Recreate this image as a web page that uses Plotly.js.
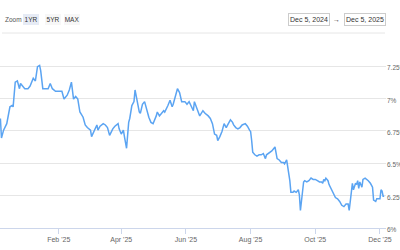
<!DOCTYPE html>
<html><head><meta charset="utf-8">
<script src="https://cdn.plot.ly/plotly-3.0.1.min.js"></script>
<style>html,body{margin:0;padding:0;background:#fff}#chart{width:400px;height:250px}</style>
</head><body><div id="chart"></div>
<script>
const dates = [
'2024-12-08','2024-12-09','2024-12-11','2024-12-14','2024-12-17','2024-12-19','2024-12-20','2024-12-22','2024-12-24','2024-12-26','2024-12-27','2024-12-29','2024-12-31',
'2025-01-03','2025-01-05','2025-01-08','2025-01-10','2025-01-12','2025-01-14','2025-01-15','2025-01-17','2025-01-20','2025-01-22','2025-01-24','2025-01-26','2025-01-29',
'2025-02-02','2025-02-04','2025-02-06','2025-02-07','2025-02-09','2025-02-11','2025-02-13','2025-02-15','2025-02-17','2025-02-19','2025-02-21','2025-02-24','2025-02-26','2025-02-28',
'2025-03-03','2025-03-04','2025-03-07','2025-03-09','2025-03-10','2025-03-12','2025-03-15','2025-03-17','2025-03-19','2025-03-21','2025-03-24','2025-03-26','2025-03-29','2025-03-30',
'2025-04-01','2025-04-03','2025-04-04','2025-04-06','2025-04-08','2025-04-09','2025-04-11','2025-04-13','2025-04-14','2025-04-16','2025-04-18','2025-04-19','2025-04-21','2025-04-23','2025-04-25','2025-04-27','2025-04-29',
'2025-05-01','2025-05-04','2025-05-05','2025-05-07','2025-05-09','2025-05-11','2025-05-12','2025-05-14','2025-05-15','2025-05-17','2025-05-19','2025-05-20','2025-05-23','2025-05-24','2025-05-26','2025-05-28','2025-05-31',
'2025-06-02','2025-06-04','2025-06-06','2025-06-08','2025-06-09','2025-06-11','2025-06-14','2025-06-17','2025-06-19','2025-06-22','2025-06-24','2025-06-26','2025-06-28','2025-06-30',
'2025-07-01','2025-07-03','2025-07-05','2025-07-07','2025-07-09','2025-07-11','2025-07-13','2025-07-15','2025-07-16','2025-07-18','2025-07-20','2025-07-22','2025-07-24','2025-07-27','2025-07-29','2025-07-31',
'2025-08-01','2025-08-02','2025-08-03','2025-08-05','2025-08-07','2025-08-09','2025-08-11','2025-08-13','2025-08-15','2025-08-16','2025-08-18','2025-08-21','2025-08-24','2025-08-26','2025-08-28','2025-08-30',
'2025-09-01','2025-09-02','2025-09-04','2025-09-05','2025-09-07','2025-09-08','2025-09-10','2025-09-11','2025-09-13','2025-09-15','2025-09-16','2025-09-17','2025-09-18','2025-09-20','2025-09-21','2025-09-23','2025-09-25','2025-09-27','2025-09-29',
'2025-10-01','2025-10-03','2025-10-05','2025-10-07','2025-10-08','2025-10-09','2025-10-10','2025-10-11','2025-10-13','2025-10-14','2025-10-16','2025-10-18','2025-10-20','2025-10-22','2025-10-24','2025-10-26','2025-10-28','2025-10-30',
'2025-11-01','2025-11-02','2025-11-03','2025-11-04','2025-11-05','2025-11-06','2025-11-08','2025-11-09','2025-11-10','2025-11-11','2025-11-12','2025-11-14','2025-11-15','2025-11-17','2025-11-19','2025-11-20','2025-11-22','2025-11-24','2025-11-25','2025-11-27','2025-11-28',
'2025-12-01','2025-12-02','2025-12-03','2025-12-04','2025-12-05'
];
const rates = [
6.845,6.695,6.755,6.805,6.935,6.945,6.935,7.125,7.135,7.075,7.115,7.095,7.075,
7.075,7.095,7.155,7.135,7.245,7.255,7.215,7.075,7.075,7.075,7.115,7.075,7.055,
7.055,7.055,6.995,7.005,7.025,7.065,7.125,6.995,7.015,6.995,6.895,6.855,6.795,6.775,
6.755,6.705,6.755,6.795,6.755,6.785,6.805,6.795,6.775,6.715,6.765,6.785,6.805,6.765,
6.725,6.755,6.705,6.615,6.815,6.845,6.945,6.975,7.065,6.975,6.895,6.885,6.955,6.975,6.905,6.855,6.815,
6.805,6.865,6.895,6.865,6.885,6.905,6.895,6.925,6.945,6.985,6.935,6.955,7.045,7.075,7.045,6.975,6.975,
6.955,6.975,6.935,6.905,6.975,6.935,6.865,6.905,6.885,6.865,6.845,6.805,6.725,6.715,
6.675,6.705,6.745,6.805,6.775,6.805,6.835,6.815,6.795,6.775,6.765,6.775,6.795,6.805,6.785,6.755,
6.745,6.675,6.585,6.565,6.555,6.565,6.565,6.575,6.535,6.565,6.575,6.595,6.625,6.535,6.525,6.505,
6.505,6.495,6.525,6.475,6.365,6.275,6.275,6.285,6.275,6.295,6.255,6.135,6.225,6.355,6.365,6.355,6.365,6.385,6.375,
6.375,6.365,6.355,6.355,6.345,6.375,6.365,6.385,6.365,6.335,6.305,6.275,6.235,6.225,6.205,6.175,6.165,6.185,
6.185,6.135,6.215,6.265,6.345,6.295,6.345,6.335,6.365,6.305,6.355,6.315,6.375,6.385,6.375,6.365,6.345,6.315,6.215,6.205,6.225,
6.225,6.295,6.285,6.245,6.245
];
const xTickVals = ['2025-02-01','2025-04-01','2025-06-01','2025-08-01','2025-10-01','2025-12-01'];
const xTickText = ["Feb '25","Apr '25","Jun '25","Aug '25","Oct '25","Dec '25"];
const yTickVals = [6, 6.25, 6.5, 6.75, 7, 7.25];
const yTickText = ['6%','6.25%','6.5%','6.75%','7%','7.25%'];
const rangeButtons = ['1YR','5YR','MAX'];
const dateFrom = 'Dec 5, 2024';
const dateTo = 'Dec 5, 2025';

const FONT = 'Liberation Sans, Arial, sans-serif';
const W = 386, TOP = 40, BOT = 228;
const px = x => x / W;
const py = y => (BOT - y) / (BOT - TOP);

const btnCenters = [31.3, 53, 71.8];
const annotations = [
  {text:'Zoom', x:px(3), y:py(20), xref:'paper', yref:'paper', xanchor:'left', yanchor:'middle', showarrow:false, font:{family:FONT,size:6.5,color:'#555'}}
];
rangeButtons.forEach((b,i)=>{
  annotations.push({text:b, x:px(btnCenters[i]), y:py(20), xref:'paper', yref:'paper', xanchor:'center', yanchor:'middle', showarrow:false,
    width:16, height:11, borderpad:0, borderwidth:0, bgcolor: i===0 ? '#e6ebf5' : '#f7f7f7',
    font:{family:FONT,size:6.5,color:'#333'}});
});
annotations.push({text:dateFrom, x:px(308.8), y:py(20), xref:'paper', yref:'paper', xanchor:'center', yanchor:'middle', showarrow:false,
  width:40, height:11, borderpad:0, borderwidth:1, bordercolor:'#cccccc', bgcolor:'#ffffff', font:{family:FONT,size:7,color:'#333'}});
annotations.push({text:'→', x:px(336.7), y:py(20), xref:'paper', yref:'paper', xanchor:'center', yanchor:'middle', showarrow:false,
  font:{family:FONT,size:7,color:'#333'}});
annotations.push({text:dateTo, x:px(364.5), y:py(20), xref:'paper', yref:'paper', xanchor:'center', yanchor:'middle', showarrow:false,
  width:40, height:11, borderpad:0, borderwidth:1, bordercolor:'#cccccc', bgcolor:'#ffffff', font:{family:FONT,size:7,color:'#333'}});

const trace = {x:dates, y:rates, type:'scatter', mode:'lines', line:{color:'#5ba4f2', width:1.5}, hoverinfo:'skip'};

const layout = {
  width:400, height:250,
  margin:{l:0, r:400-W, t:TOP, b:250-BOT, pad:0},
  paper_bgcolor:'#ffffff', plot_bgcolor:'#ffffff',
  showlegend:false,
  font:{family:FONT, size:7, color:'#666'},
  xaxis:{type:'date', range:['2024-12-07 15:00','2025-12-06 17:00'], showgrid:false, zeroline:false,
    showline:true, linecolor:'#ccd6eb', linewidth:1, ticks:'outside', ticklen:5, tickcolor:'#ccd6eb', tickwidth:1,
    tickmode:'array', tickvals:xTickVals, ticktext:xTickText, tickfont:{family:FONT,size:7,color:'#666'}},
  yaxis:{side:'right', range:[6, 6 + (BOT-TOP)/129.6], showgrid:true, gridcolor:'#e6e6e6', gridwidth:1, zeroline:false,
    showline:false, ticks:'', tickmode:'array', tickvals:yTickVals, ticktext:yTickText, ticklabelshift:2, ticklabelstandoff:0,
    tickfont:{family:FONT,size:6.5,color:'#666'}},
  shapes:[{type:'line', xref:'paper', yref:'paper', x0:px(2), x1:px(385), y0:py(33), y1:py(33), line:{color:'#e6e6e6', width:1}}],
  annotations:annotations
};
Plotly.newPlot('chart', [trace], layout, {staticPlot:true, displayModeBar:false});
</script></body></html>
